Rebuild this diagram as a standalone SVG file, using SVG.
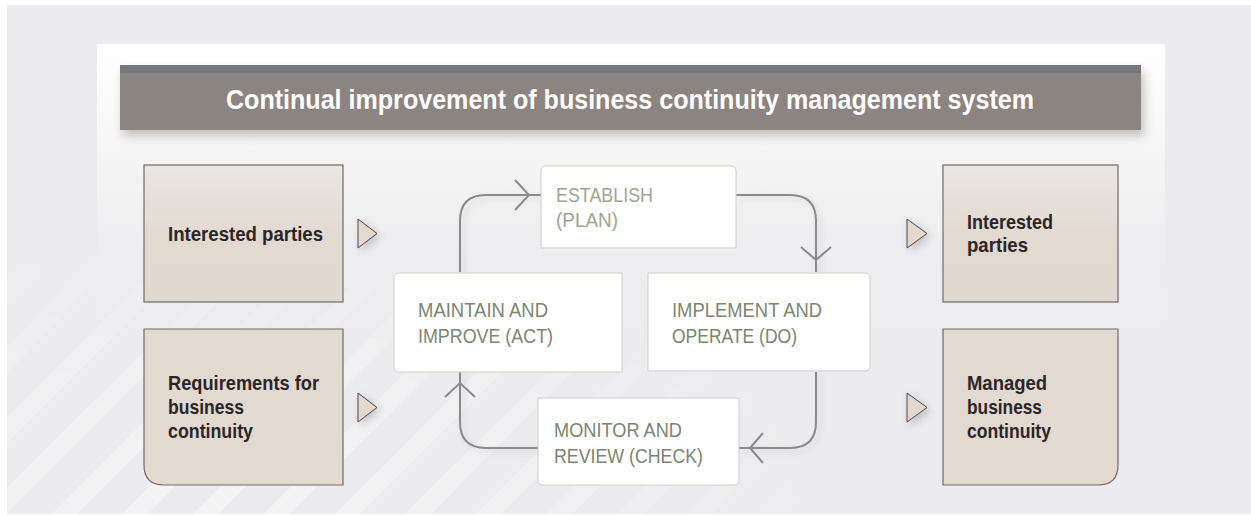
<svg xmlns="http://www.w3.org/2000/svg" width="1251" height="515" viewBox="0 0 1251 515">
<defs>
  <linearGradient id="panelGrad" x1="0" y1="0" x2="0" y2="1">
    <stop offset="0" stop-color="#FFFFFF"/>
    <stop offset="0.45" stop-color="#F3F3F4"/>
    <stop offset="1" stop-color="#ECECEE" stop-opacity="0"/>
  </linearGradient>
  <linearGradient id="beigeGrad" x1="0" y1="0" x2="0" y2="1">
    <stop offset="0" stop-color="#EBE6E1"/>
    <stop offset="0.55" stop-color="#E2D9D1"/>
    <stop offset="1" stop-color="#E1D8D0"/>
  </linearGradient>
  <pattern id="stripes" patternUnits="userSpaceOnUse" width="50" height="50" patternTransform="rotate(45)">
    <rect x="0" y="0" width="18" height="50" fill="#FFFFFF"/>
  </pattern>
  <radialGradient id="stripeFade" cx="0.18" cy="0.95" r="0.5">
    <stop offset="0" stop-color="#FFFFFF" stop-opacity="0.45"/>
    <stop offset="0.6" stop-color="#FFFFFF" stop-opacity="0.22"/>
    <stop offset="1" stop-color="#FFFFFF" stop-opacity="0"/>
  </radialGradient>
  <mask id="stripeMask">
    <rect x="0" y="0" width="1251" height="515" fill="url(#stripeFade)"/>
  </mask>
  <filter id="barShadow" x="-5%" y="-20%" width="110%" height="160%">
    <feDropShadow dx="3" dy="6" stdDeviation="5" flood-color="#000" flood-opacity="0.22"/>
  </filter>
  <filter id="softShadow" x="-60%" y="-60%" width="220%" height="220%">
    <feDropShadow dx="3" dy="3" stdDeviation="4" flood-color="#000" flood-opacity="0.2"/>
  </filter>
  <filter id="lineShadow" x="-10%" y="-10%" width="120%" height="120%">
    <feDropShadow dx="3" dy="3" stdDeviation="3" flood-color="#000" flood-opacity="0.12"/>
  </filter>
  <style>
    .beige { stroke: #6E6B68; stroke-width: 1.2; }
    .step { fill: #FFFFFF; stroke: #CFCFC6; stroke-width: 1; }
    .lbl { font-family: "Liberation Sans", Arial, sans-serif; font-weight: bold; font-size: 20.5px; fill: #2A2526; }
    .stp { font-family: "Liberation Sans", Arial, sans-serif; font-size: 21px; fill: #7C8670; }
    .stp2 { font-family: "Liberation Sans", Arial, sans-serif; font-size: 21px; fill: #9EA595; }
    .title { font-family: "Liberation Sans", Arial, sans-serif; font-weight: bold; font-size: 28px; fill: #FFFFFF; }
    .loop { fill: none; stroke: #8A8A8A; stroke-width: 2; }
    .chev { fill: none; stroke: #8A8A8A; stroke-width: 2; stroke-linejoin: miter; }
    .tri { fill: #E2D9D1; stroke: #4A4646; stroke-width: 1; }
  </style>
</defs>

<!-- background -->
<rect x="0" y="0" width="1251" height="515" fill="#FFFFFF"/>
<rect x="7" y="5" width="1244" height="509" fill="#ECECEE"/>
<rect x="97" y="44" width="1068" height="300" fill="url(#panelGrad)"/>
<rect x="7" y="5" width="1244" height="509" fill="url(#stripes)" mask="url(#stripeMask)"/>

<!-- title bar -->
<g id="title">
  <g filter="url(#barShadow)">
    <rect x="120" y="65" width="1021" height="65" fill="#8C8481"/>
    <rect x="120" y="65" width="1021" height="8" fill="#76777B"/>
  </g>
  <text class="title" x="226" y="109" textLength="808" lengthAdjust="spacingAndGlyphs">Continual improvement of business continuity management system</text>
</g>

<!-- connectors -->
<g id="connectors">
  <g filter="url(#lineShadow)">
    <path class="loop" d="M460,272 V221 Q460,195 486,195 H541"/>
    <path class="loop" d="M736,195 H790 Q816,195 816,221 V272"/>
    <path class="loop" d="M816,372 V422 Q816,448 790,448 H739"/>
    <path class="loop" d="M538,448 H486 Q460,448 460,422 V372"/>
  </g>
  <polyline class="chev" points="515,180 529,195 515,210"/>
  <polyline class="chev" points="801,247 816,260 831,247"/>
  <polyline class="chev" points="763,433 750,448 763,463"/>
  <polyline class="chev" points="445,397 460,383 475,397"/>
  <g filter="url(#softShadow)">
    <polygon class="tri" points="358,219 377,233.5 358,248"/>
    <polygon class="tri" points="358,393 377,407.5 358,422"/>
    <polygon class="tri" points="907,219 927,233.5 907,248"/>
    <polygon class="tri" points="907,393 927,407.5 907,422"/>
  </g>
</g>

<!-- left inputs -->
<g id="in-interested">
  <rect class="beige" x="144" y="165" width="199" height="137" fill="url(#beigeGrad)"/>
  <text class="lbl" x="168" y="241" textLength="155" lengthAdjust="spacingAndGlyphs">Interested parties</text>
</g>
<g id="in-requirements">
  <path class="beige" d="M144,329 H343 V485 H164 Q144,485 144,465 Z" fill="#E2D9D1"/>
  <text class="lbl" x="168" y="390" textLength="151" lengthAdjust="spacingAndGlyphs">Requirements for</text>
  <text class="lbl" x="168" y="414" textLength="76" lengthAdjust="spacingAndGlyphs">business</text>
  <text class="lbl" x="168" y="438" textLength="85" lengthAdjust="spacingAndGlyphs">continuity</text>
</g>

<!-- PDCA steps -->
<g id="plan">
  <path class="step" d="M541,248 V171 Q541,166 546,166 H731 Q736,166 736,171 V248 Z"/>
  <text class="stp2" x="556" y="202" textLength="97" lengthAdjust="spacingAndGlyphs">ESTABLISH</text>
  <text class="stp2" x="556" y="227" textLength="62" lengthAdjust="spacingAndGlyphs">(PLAN)</text>
</g>
<g id="act">
  <path class="step" d="M622,273 V372 H399 Q394,372 394,367 V278 Q394,273 399,273 Z"/>
  <text class="stp" x="418" y="317" textLength="130" lengthAdjust="spacingAndGlyphs">MAINTAIN AND</text>
  <text class="stp" x="418" y="343" textLength="135" lengthAdjust="spacingAndGlyphs">IMPROVE (ACT)</text>
</g>
<g id="do">
  <path class="step" d="M648,273 H865 Q870,273 870,278 V366 Q870,371 865,371 H648 Z"/>
  <text class="stp" x="672" y="317" textLength="150" lengthAdjust="spacingAndGlyphs">IMPLEMENT AND</text>
  <text class="stp" x="672" y="343" textLength="125" lengthAdjust="spacingAndGlyphs">OPERATE (DO)</text>
</g>
<g id="check">
  <path class="step" d="M538,398 H739 V480 Q739,485 734,485 H543 Q538,485 538,480 Z"/>
  <text class="stp" x="554" y="437" textLength="128" lengthAdjust="spacingAndGlyphs">MONITOR AND</text>
  <text class="stp" x="554" y="463" textLength="149" lengthAdjust="spacingAndGlyphs">REVIEW (CHECK)</text>
</g>

<!-- right outputs -->
<g id="out-interested">
  <rect class="beige" x="943" y="165" width="175" height="137" fill="url(#beigeGrad)"/>
  <text class="lbl" x="967" y="229" textLength="86" lengthAdjust="spacingAndGlyphs">Interested</text>
  <text class="lbl" x="967" y="252" textLength="61" lengthAdjust="spacingAndGlyphs">parties</text>
</g>
<g id="out-managed">
  <path class="beige" d="M943,329 H1118 V465 Q1118,485 1098,485 H943 Z" fill="#E2D9D1"/>
  <text class="lbl" x="967" y="390" textLength="80" lengthAdjust="spacingAndGlyphs">Managed</text>
  <text class="lbl" x="967" y="414" textLength="75" lengthAdjust="spacingAndGlyphs">business</text>
  <text class="lbl" x="967" y="438" textLength="84" lengthAdjust="spacingAndGlyphs">continuity</text>
</g>
</svg>
